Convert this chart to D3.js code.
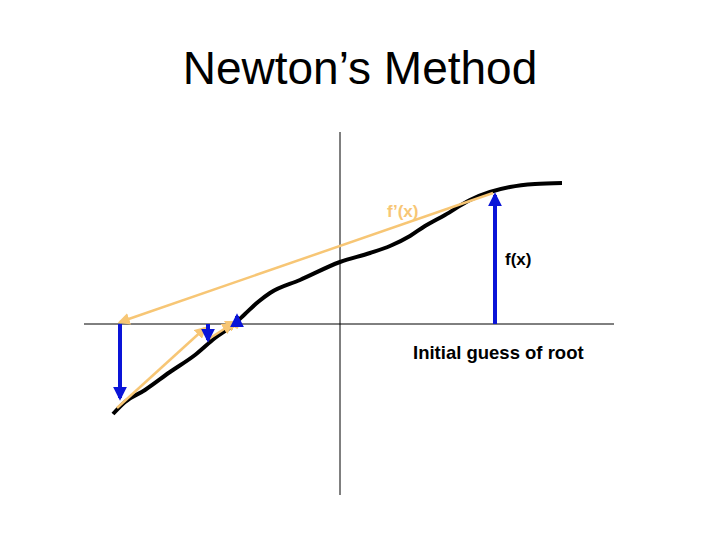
<!DOCTYPE html>
<html>
<head>
<meta charset="utf-8">
<script src="https://cdn.jsdelivr.net/npm/d3@7"></script>
<style>
  body { margin: 0; background: #fff; }
  text { font-family: "Liberation Sans", Arial, sans-serif; }
</style>
</head>
<body>
<svg id="chart" width="720" height="540"></svg>
<script>
// curve f(x), in axis units (origin at the crossing of the axes)
const curveX = [-227, -215, -195, -170, -145, -125, -108, -95, -82, -70, -40, 0, 30, 50, 70, 85, 105, 130, 150, 170, 195, 222];
const curveY = [-90, -78, -66, -48, -31, -14, -2, 10, 22, 31, 44, 62, 71, 78, 88, 98, 109, 124, 132, 137, 140, 141];

// tangent steps f'(x): [x1, y1, x2, y2], arrow at the second point
const tangents = [
  [153, 131, -220, 2],
  [-223, -84, -135, -4],
  [-133, -16, -108, 0],
  [-102, -4, -114, 2]
];
// f(x) verticals: [x, yFrom, yTo]
const verticals = [
  [155, 0, 129],
  [-220, 0, -74],
  [-132, 0, -16],
  [-103, 0, 8]
];

const svg = d3.select("#chart");
const x = d3.scaleLinear().domain([-256, 274]).range([84, 614]);
const y = d3.scaleLinear().domain([-171, 192]).range([495, 132]);

svg.append("text")
  .attr("x", 360).attr("y", 84)
  .attr("text-anchor", "middle")
  .style("font-size", "46px")
  .text("Newton’s Method");

const defs = svg.append("defs");
function marker(id, color, size) {
  defs.append("marker")
    .attr("id", id)
    .attr("viewBox", "0 0 10 10")
    .attr("refX", 8).attr("refY", 5)
    .attr("markerWidth", size).attr("markerHeight", size)
    .attr("markerUnits", "userSpaceOnUse")
    .attr("orient", "auto")
    .append("path").attr("d", "M0,0L10,5L0,10Z").attr("fill", color);
}
marker("orange", "#f7c675", 12);
marker("blue", "#0a14d8", 14);

// axes
svg.append("line")
  .attr("x1", x(-256)).attr("x2", x(274)).attr("y1", y(0)).attr("y2", y(0))
  .attr("stroke", "#000").attr("stroke-width", 1);
svg.append("line")
  .attr("x1", x(0)).attr("x2", x(0)).attr("y1", y(192)).attr("y2", y(-171))
  .attr("stroke", "#000").attr("stroke-width", 1);

// curve
const pts = curveX.map((d, i) => [d, curveY[i]]);
svg.append("path")
  .datum(pts)
  .attr("d", d3.line().x(d => x(d[0])).y(d => y(d[1])).curve(d3.curveMonotoneX))
  .attr("fill", "none").attr("stroke", "#000").attr("stroke-width", 4);

// tangents
svg.selectAll(".tan").data(tangents).join("line")
  .attr("x1", d => x(d[0])).attr("y1", d => y(d[1]))
  .attr("x2", d => x(d[2])).attr("y2", d => y(d[3]))
  .attr("stroke", "#f7c675").attr("stroke-width", 2.5)
  .attr("marker-end", "url(#orange)");

// verticals
svg.selectAll(".vert").data(verticals).join("line")
  .attr("x1", d => x(d[0])).attr("x2", d => x(d[0]))
  .attr("y1", d => y(d[1])).attr("y2", d => y(d[2]))
  .attr("stroke", "#0a14d8").attr("stroke-width", 4)
  .attr("marker-end", "url(#blue)");

svg.append("text").attr("x", 387).attr("y", 217)
  .style("font-size", "17px").style("font-weight", "bold").attr("fill", "#f7c675")
  .text("f’(x)");
svg.append("text").attr("x", 505).attr("y", 265)
  .style("font-size", "17px").style("font-weight", "bold")
  .text("f(x)");
svg.append("text").attr("x", 413).attr("y", 359)
  .style("font-size", "18.5px").style("font-weight", "bold")
  .text("Initial guess of root");
</script>
</body>
</html>
